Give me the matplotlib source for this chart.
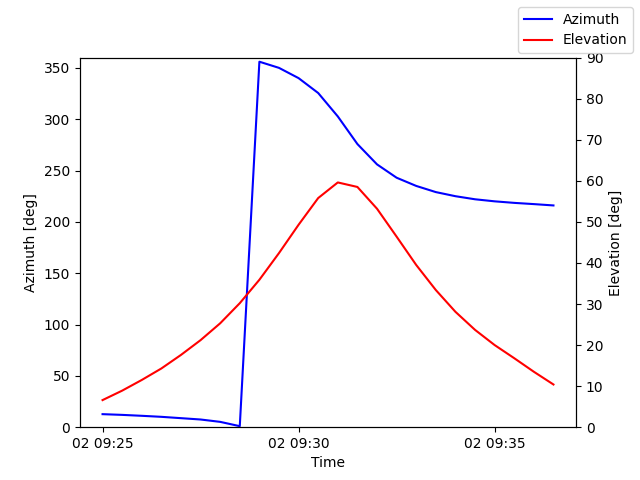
import numpy as np
import pandas as pd
import matplotlib
matplotlib.use("Agg")
import matplotlib.pyplot as plt

times = pd.date_range("2024-01-02 09:25:00", "2024-01-02 09:36:30", freq="30s")

azimuth = [12.7, 12.0, 11.1, 10.1, 8.8, 7.5, 5.2, 1.0,
           356.0, 350.0, 340.0, 325.5, 302.7, 275.8, 256.0, 243.0,
           235.0, 229.0, 225.0, 222.0, 220.0, 218.5, 217.3, 216.0]
elevation = [6.6, 8.9, 11.5, 14.3, 17.6, 21.2, 25.3, 30.2, 35.9, 42.4,
             49.3, 55.8, 59.6, 58.5, 53.2, 46.4, 39.5, 33.4, 28.1, 23.7,
             20.0, 16.8, 13.5, 10.4]

fig, ax = plt.subplots(figsize=(6.4, 4.8))
ax.plot(times, azimuth, color="blue", label="Azimuth")
ax.set_ylim(0, 360)
ax.set_xlabel("Time")
ax.set_ylabel("Azimuth [deg]")

ax2 = ax.twinx()
ax2.plot(times, elevation, color="red", label="Elevation")
ax2.set_ylim(0, 90)
ax2.set_ylabel("Elevation [deg]")

fig.legend(loc="upper right")
fig.savefig("out.png", dpi=100)
